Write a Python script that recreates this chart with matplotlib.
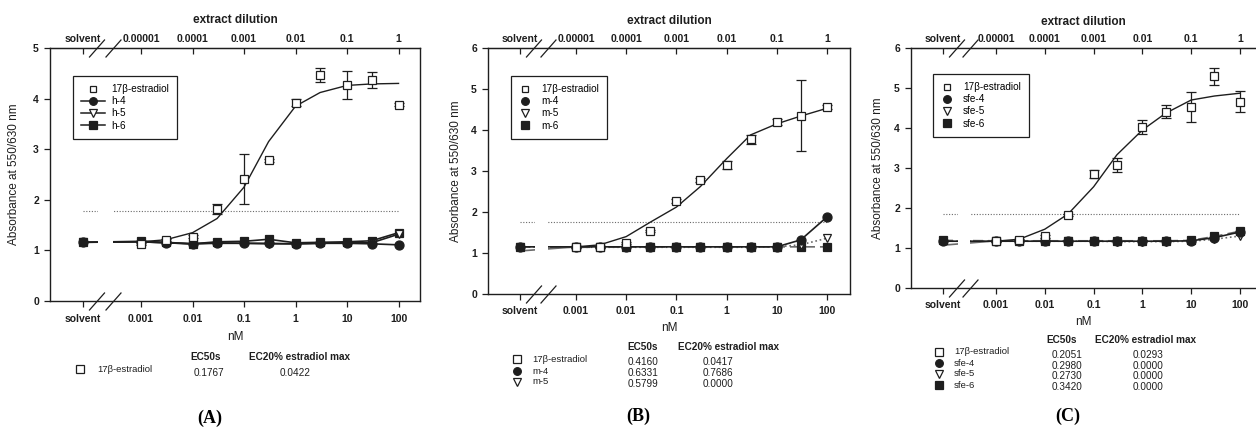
import numpy as np
import matplotlib
matplotlib.use('Agg')
import matplotlib.pyplot as plt
from matplotlib.lines import Line2D

plt.rcParams['font.family'] = ['Liberation Sans', 'DejaVu Sans']

# ---------------- data ----------------
conc_nM = [0.001, 0.003, 0.01, 0.03, 0.1, 0.3, 1, 3, 10, 30, 100]
bottom_tick_labels = ['0.001', '0.01', '0.1', '1', '10', '100']
top_tick_labels = ['0.00001', '0.0001', '0.001', '0.01', '0.1', '1']

# Panel A
e2_A = [1.13, 1.20, 1.27, 1.82, 2.41, 2.78, 3.92, 4.47, 4.27, 4.37, 3.88]
e2_A_err = [0.03, 0.02, 0.03, 0.10, 0.49, 0.03, 0.07, 0.14, 0.28, 0.16, 0.03]
fit_A = [1.17, 1.21, 1.35, 1.63, 2.25, 3.15, 3.85, 4.12, 4.26, 4.29, 4.30]
names_A = ['h-4', 'h-5', 'h-6']
solv_A = [1.16, 1.16, 1.16]
s4_A = [1.17, 1.15, 1.13, 1.15, 1.14, 1.14, 1.13, 1.14, 1.14, 1.13, 1.11]
s5_A = [1.17, 1.15, 1.13, 1.14, 1.14, 1.13, 1.13, 1.14, 1.15, 1.15, 1.32]
s6_A = [1.18, 1.16, 1.13, 1.17, 1.18, 1.22, 1.15, 1.16, 1.17, 1.19, 1.35]
ec20_A = 1.78
tbl_names_A = ['17\u03b2-estradiol']
tbl_ec50_A = ['0.1767']
tbl_ec20_A = ['0.0422']

# Panel B
e2_B = [1.15, 1.15, 1.24, 1.54, 2.27, 2.78, 3.15, 3.77, 4.19, 4.35, 4.56]
e2_B_err = [0.02, 0.02, 0.03, 0.03, 0.05, 0.05, 0.10, 0.10, 0.08, 0.87, 0.05]
fit_B = [1.15, 1.20, 1.40, 1.75, 2.12, 2.62, 3.30, 3.88, 4.15, 4.34, 4.53]
e2_solv_B = 1.05
names_B = ['m-4', 'm-5', 'm-6']
solv_B = [1.15, 1.15, 1.15]
s4_B = [1.15, 1.15, 1.15, 1.15, 1.15, 1.15, 1.15, 1.15, 1.15, 1.32, 1.88]
s5_B = [1.14, 1.14, 1.14, 1.14, 1.14, 1.14, 1.14, 1.14, 1.15, 1.20, 1.36]
s6_B = [1.14, 1.14, 1.15, 1.15, 1.15, 1.15, 1.15, 1.15, 1.15, 1.15, 1.15]
ec20_B = 1.75
tbl_names_B = ['17\u03b2-estradiol', 'm-4', 'm-5']
tbl_ec50_B = ['0.4160', '0.6331', '0.5799']
tbl_ec20_B = ['0.0417', '0.7686', '0.0000']

# Panel C
e2_C = [1.18, 1.20, 1.29, 1.82, 2.85, 3.08, 4.02, 4.41, 4.53, 5.29, 4.66]
e2_C_err = [0.02, 0.02, 0.03, 0.03, 0.10, 0.17, 0.17, 0.17, 0.38, 0.22, 0.27]
fit_C = [1.17, 1.22, 1.47, 1.85, 2.53, 3.33, 3.95, 4.37, 4.70, 4.80, 4.87]
e2_solv_C = 1.07
names_C = ['sfe-4', 'sfe-5', 'sfe-6']
solv_C = [1.17, 1.17, 1.19]
s4_C = [1.17, 1.17, 1.17, 1.17, 1.17, 1.17, 1.17, 1.17, 1.18, 1.26, 1.40]
s5_C = [1.17, 1.17, 1.17, 1.17, 1.17, 1.16, 1.16, 1.16, 1.17, 1.22, 1.30]
s6_C = [1.18, 1.18, 1.18, 1.18, 1.18, 1.18, 1.18, 1.18, 1.19, 1.29, 1.42]
ec20_C = 1.85
tbl_names_C = ['17\u03b2-estradiol', 'sfe-4', 'sfe-5', 'sfe-6']
tbl_ec50_C = ['0.2051', '0.2980', '0.2730', '0.3420']
tbl_ec20_C = ['0.0293', '0.0000', '0.0000', '0.0000']

# ---------------- figure ----------------
W, H = 1256, 433
fig = plt.figure(figsize=(W / 100, H / 100), dpi=100)
fig.patch.set_facecolor('white')
INK = '#1e1e1e'
GRAY = '#6a6a6a'


def fx(px):
    return px / W


def fy(py):
    return 1 - py / H


marker_styles = [
    dict(marker='o', mfc=INK, mec=INK, ms=6.5),
    dict(marker='v', mfc='white', mec=INK, ms=6),
    dict(marker='s', mfc=INK, mec=INK, ms=5.5),
]
e2_marker = dict(marker='s', mfc='white', mec=INK, ms=6, mew=0.9, ls='none')

panels = [
    dict(box=(50, 48, 420, 301), xlim=(-4.767, 2.417), ymax=5, solvent=-4.126,
         brk=(-3.835, -3.544), e2=e2_A, err=e2_A_err, fit=fit_A, e2_solv=None,
         names=names_A, solv=solv_A, series=[s4_A, s5_A, s6_A], ec20=ec20_A,
         series_ls=['-', '-', '-'], series_col=[INK, INK, INK], legend_lines=True,
         leg=(73, 76), ylab_x=14, title_y=20, nm_y=337, lbl='(A)', lbl_xy=(210, 418),
         tbl_names=tbl_names_A, tbl_ec50=tbl_ec50_A, tbl_ec20=tbl_ec20_A,
         hdr=((206, 357), (300, 357)), mk_x=80, name_x=97, row_y=[369],
         ec50_x=209, ec20_x=295, val_y=[373]),
    dict(box=(488, 48, 850, 294), xlim=(-4.753, 2.458), ymax=6, solvent=-4.116,
         brk=(-3.817, -3.558), e2=e2_B, err=e2_B_err, fit=fit_B, e2_solv=e2_solv_B,
         names=names_B, solv=solv_B, series=[s4_B, s5_B, s6_B], ec20=ec20_B,
         series_ls=['-', ':', (0, (6, 3))], series_col=[INK, GRAY, GRAY], legend_lines=False,
         leg=(511, 76), ylab_x=456, title_y=21, nm_y=328, lbl='(B)', lbl_xy=(638, 416),
         tbl_names=tbl_names_B, tbl_ec50=tbl_ec50_B, tbl_ec20=tbl_ec20_B,
         hdr=((643, 347), (729, 347)), mk_x=517, name_x=532, row_y=[359, 371, 382],
         ec50_x=643, ec20_x=718, val_y=[362, 373, 384]),
    dict(box=(911, 48, 1263, 288), xlim=(-4.742, 2.471), ymax=6, solvent=-4.086,
         brk=(-3.779, -3.533), e2=e2_C, err=e2_C_err, fit=fit_C, e2_solv=e2_solv_C,
         names=names_C, solv=solv_C, series=[s4_C, s5_C, s6_C], ec20=ec20_C,
         series_ls=['-', ':', (0, (6, 3))], series_col=[INK, GRAY, GRAY], legend_lines=False,
         leg=(933, 74), ylab_x=878, title_y=22, nm_y=322, lbl='(C)', lbl_xy=(1068, 416),
         tbl_names=tbl_names_C, tbl_ec50=tbl_ec50_C, tbl_ec20=tbl_ec20_C,
         hdr=((1062, 340), (1146, 340)), mk_x=939, name_x=954, row_y=[352, 363, 374, 385],
         ec50_x=1067, ec20_x=1148, val_y=[355, 366, 376, 387]),
]

lx = np.log10(conc_nM)

for p in panels:
    x0, y0, x1, y1 = p['box']
    ax = fig.add_axes([fx(x0), fy(y1), fx(x1 - x0), (y1 - y0) / H])
    ax.set_xlim(*p['xlim'])
    ax.set_ylim(0, p['ymax'])
    sv = p['solvent']
    pxd = (x1 - x0) / (p['xlim'][1] - p['xlim'][0])  # pixels per decade
    pyh = (y1 - y0)

    # EC20 dotted line
    ax.plot([sv, lx[-1]], [p['ec20']] * 2, ls=(0, (1, 1.5)), color=GRAY, lw=0.8, zorder=1.5)

    # estradiol solvent segment (line only)
    if p['e2_solv'] is not None:
        ax.plot([sv, lx[0]], [p['e2_solv'], p['e2'][0]], color=GRAY, lw=1.2, zorder=1.6)

    # sample series (drawn so that circles end up on top)
    for i in (2, 1, 0):
        s = p['series'][i]
        st = marker_styles[i]
        xs = np.concatenate([[sv], lx])
        ys = np.concatenate([[p['solv'][i]], s])
        ax.plot(xs, ys, ls=p['series_ls'][i], color=p['series_col'][i], lw=1.2, zorder=2)
        ax.plot(xs, ys, ls='none', marker=st['marker'], mfc=st['mfc'], mec=st['mec'],
                ms=st['ms'], mew=0.9, zorder=2.1)

    # estradiol fit and data
    ax.plot(lx, p['fit'], color=INK, lw=1.0, zorder=2)
    ax.errorbar(lx, p['e2'], yerr=p['err'], fmt='none', ecolor=INK, elinewidth=0.9,
                capsize=3.5, capthick=0.9, zorder=2.2)
    ax.plot(lx, p['e2'], **e2_marker, zorder=2.25)

    # white gap at axis break
    ax.axvspan(p['brk'][0], p['brk'][1], color='white', zorder=2.3, lw=0)

    # break slashes
    for yb in (0, 1):
        for c in (p['brk'][0] - 1.0 / pxd, p['brk'][1] + 0.5 / pxd):
            ax.plot([c - 7.5 / pxd, c + 7.5 / pxd], [yb - 9 / pyh, yb + 8 / pyh],
                    transform=ax.get_xaxis_transform(), color=INK, lw=0.9,
                    clip_on=False, zorder=3)

    # axes styling
    for sp in ax.spines.values():
        sp.set_color(INK)
        sp.set_linewidth(1.0)
    bticks = [sv] + [np.log10(float(t)) for t in bottom_tick_labels]
    ax.set_xticks(bticks)
    ax.set_xticklabels(['solvent'] + bottom_tick_labels, fontweight='bold', fontsize=7.5)
    ax.set_yticks(range(0, p['ymax'] + 1))
    ax.set_yticklabels([str(v) for v in range(0, p['ymax'] + 1)], fontweight='bold',
                       fontsize=7.5)
    ax.tick_params(axis='x', direction='out', length=4, width=0.9, pad=5, colors=INK)
    ax.tick_params(axis='y', direction='out', length=4, width=0.9, pad=4, colors=INK)

    sec = ax.secondary_xaxis('top')
    tticks = [sv] + [np.log10(float(t) * 100) for t in top_tick_labels]
    sec.set_xticks(tticks)
    sec.set_xticklabels(['solvent'] + top_tick_labels, fontweight='bold', fontsize=7.5)
    sec.tick_params(axis='x', direction='in', length=4, width=0.9, pad=3, colors=INK)
    sec.spines['top'].set_color(INK)

    ax.set_ylabel('Absorbance at 550/630 nm', fontsize=8.5, color=INK)
    ax.yaxis.set_label_coords((p['ylab_x'] - x0) / (x1 - x0), 0.5)
    ax.yaxis.label.set_va('center')

    cxm = (x0 + min(x1, W)) / 2
    fig.text(fx(cxm), fy(p['title_y']), 'extract dilution', ha='center', va='center',
             fontweight='bold', fontsize=8.5, color=INK)
    fig.text(fx(cxm), fy(p['nm_y']), 'nM', ha='center', va='center', fontsize=8.5,
             color=INK)

    # legend
    handles = [Line2D([], [], ls='none', marker='s', mfc='white', mec=INK, ms=5, mew=0.9)]
    for i in range(3):
        st = marker_styles[i]
        handles.append(Line2D([], [], ls='-' if p['legend_lines'] else 'none', color=INK,
                              lw=1.1, marker=st['marker'], mfc=st['mfc'], mec=st['mec'],
                              ms=5.5, mew=0.9))
    lx0, ly0 = p['leg']
    leg = ax.legend(handles, ['17\u03b2-estradiol'] + p['names'], loc='upper left',
                    bbox_to_anchor=((lx0 - x0) / (x1 - x0), 1 - (ly0 - y0) / pyh),
                    fontsize=7.2, frameon=True, fancybox=False, framealpha=1,
                    edgecolor=INK, borderpad=0.8, labelspacing=0.22,
                    handlelength=2.4 if p['legend_lines'] else 1.2,
                    handletextpad=0.6 if p['legend_lines'] else 1.0,
                    borderaxespad=0)
    leg.get_frame().set_linewidth(0.9)
    leg.set_zorder(5)

    # EC table
    fig.text(fx(p['hdr'][0][0]), fy(p['hdr'][0][1]), 'EC50s', ha='center', va='center',
             fontweight='bold', fontsize=7.2, color=INK)
    fig.text(fx(p['hdr'][1][0]), fy(p['hdr'][1][1]), 'EC20% estradiol max', ha='center',
             va='center', fontweight='bold', fontsize=7.2, color=INK)
    tbl_markers = [dict(marker='s', mfc='white', mec=INK, ms=5.5)] + \
        [dict(marker=m['marker'], mfc=m['mfc'], mec=m['mec'], ms=5.5) for m in marker_styles]
    for r, name in enumerate(p['tbl_names']):
        fig.add_artist(Line2D([fx(p['mk_x'])], [fy(p['row_y'][r])], ls='none', mew=0.9,
                              transform=fig.transFigure, **tbl_markers[r]))
        fig.text(fx(p['name_x']), fy(p['row_y'][r]), name, ha='left', va='center',
                 fontsize=6.8, color=INK)
        fig.text(fx(p['ec50_x']), fy(p['val_y'][r]), p['tbl_ec50'][r], ha='center',
                 va='center', fontsize=7.2, color=INK)
        fig.text(fx(p['ec20_x']), fy(p['val_y'][r]), p['tbl_ec20'][r], ha='center',
                 va='center', fontsize=7.2, color=INK)

    fig.text(fx(p['lbl_xy'][0]), fy(p['lbl_xy'][1]), p['lbl'], ha='center', va='center',
             fontsize=13, fontweight='bold', family=['Liberation Serif', 'DejaVu Serif'],
             color='black')

fig.savefig('out.png', dpi=100, facecolor='white')
